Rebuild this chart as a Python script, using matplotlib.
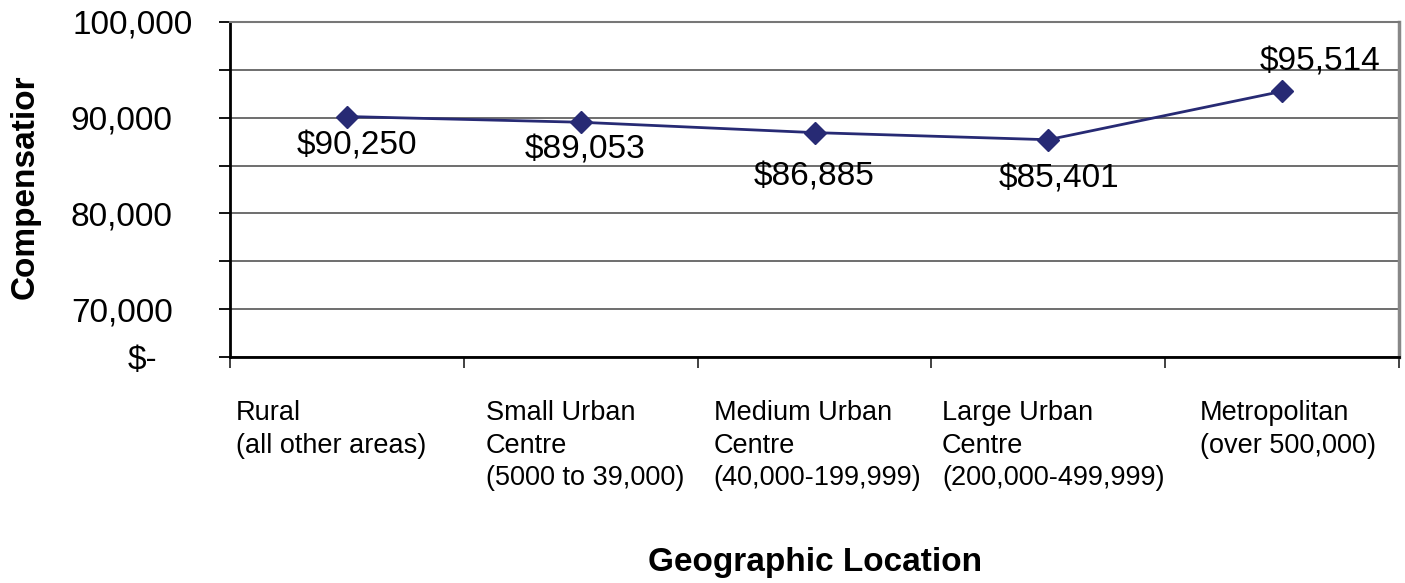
import matplotlib
matplotlib.use("Agg")
import matplotlib.pyplot as plt
from matplotlib.ticker import FixedLocator, FixedFormatter, NullFormatter
from matplotlib.transforms import ScaledTranslation

# ---- data ----
categories = [
    "Rural\n(all other areas)",
    "Small Urban\nCentre\n(5000 to 39,000)",
    "Medium Urban\nCentre\n(40,000-199,999)",
    "Large Urban\nCentre\n(200,000-499,999)",
    "Metropolitan\n(over 500,000)",
]
compensation = [90250, 89053, 86885, 85401, 95514]
value_labels = ["$90,250", "$89,053", "$86,885", "$85,401", "$95,514"]

# y axis gridline values and the (odd) labels printed beside them in the source
y_grid = [40000, 50000, 60000, 70000, 80000, 90000, 100000, 110000]
y_tick_labels = ["$-", "70,000", "", "80,000", "", "90,000", "", "100,000"]

# label offsets (points) relative to each data point
label_offsets = [(7, -21), (3, -20), (0, -32), (8, -28), (27, 21)]
# horizontal nudges (pixels) of tick labels
x_label_dx = [-16, 4, 3, 5, 6]
y_label_dx = [21, 0, 0, 0, 0, 0, 0, 11]

plt.rcParams["font.family"] = ["Liberation Sans", "DejaVu Sans"]

fig = plt.figure(figsize=(14.05, 5.83), dpi=100)
ax = fig.add_axes([230 / 1405, 1 - 357 / 583, 1169 / 1405, 335 / 583])

line_color = "#272A74"
x = list(range(len(categories)))
ax.plot(x, compensation, color=line_color, lw=2, marker="D", ms=11,
        markerfacecolor=line_color, markeredgecolor=line_color, zorder=3)

for xi, yi, txt, off in zip(x, compensation, value_labels, label_offsets):
    ax.annotate(txt, (xi, yi), xytext=off, textcoords="offset points",
                ha="center", va="center", fontsize=24, color="black", zorder=4)

ax.set_xlim(-0.5, len(categories) - 0.5)
ax.set_ylim(y_grid[0], y_grid[-1])

# y ticks / grid
ax.yaxis.set_major_locator(FixedLocator(y_grid))
ax.yaxis.set_major_formatter(FixedFormatter(y_tick_labels))
ax.tick_params(axis="y", which="major", length=8, width=1.3, color="black",
               labelsize=24, pad=70, direction="out")
ax.grid(axis="y", color="#555555", lw=1.2, zorder=0)

# x ticks: boundaries as major ticks, category labels as minor
bounds = [i - 0.5 for i in range(len(categories) + 1)]
ax.xaxis.set_major_locator(FixedLocator(bounds))
ax.xaxis.set_major_formatter(NullFormatter())
ax.xaxis.set_minor_locator(FixedLocator(x))
ax.xaxis.set_minor_formatter(FixedFormatter(categories))
ax.tick_params(axis="x", which="major", length=8, width=1.3, color="#333333",
               direction="out")
ax.tick_params(axis="x", which="minor", length=0, labelsize=19.5, pad=31)

# spines
ax.spines["left"].set_color("black")
ax.spines["left"].set_linewidth(2)
ax.spines["bottom"].set_color("black")
ax.spines["bottom"].set_linewidth(2)
ax.spines["top"].set_color("#777777")
ax.spines["top"].set_linewidth(1.5)
ax.spines["right"].set_color("#888888")
ax.spines["right"].set_linewidth(2.5)

ax.set_ylabel("Compensatior", fontsize=24, fontweight="bold", va="center")
ax.yaxis.set_label_coords(-0.1754, 0.507)
ax.set_xlabel("Geographic Location", fontsize=24, fontweight="bold", va="center")
ax.xaxis.set_label_coords(0.5004, -0.612)

fig.canvas.draw()
for lbl, dx in zip(ax.get_xticklabels(minor=True), x_label_dx):
    lbl.set_multialignment("left")
    lbl.set_linespacing(1.33)
    lbl.set_transform(lbl.get_transform() + ScaledTranslation(dx / 100, 0, fig.dpi_scale_trans))
for lbl, dx in zip(ax.get_yticklabels(), y_label_dx):
    lbl.set_horizontalalignment("center")
    lbl.set_transform(lbl.get_transform() + ScaledTranslation(dx / 100, 0, fig.dpi_scale_trans))

fig.savefig("out.png", dpi=100, facecolor="white")
